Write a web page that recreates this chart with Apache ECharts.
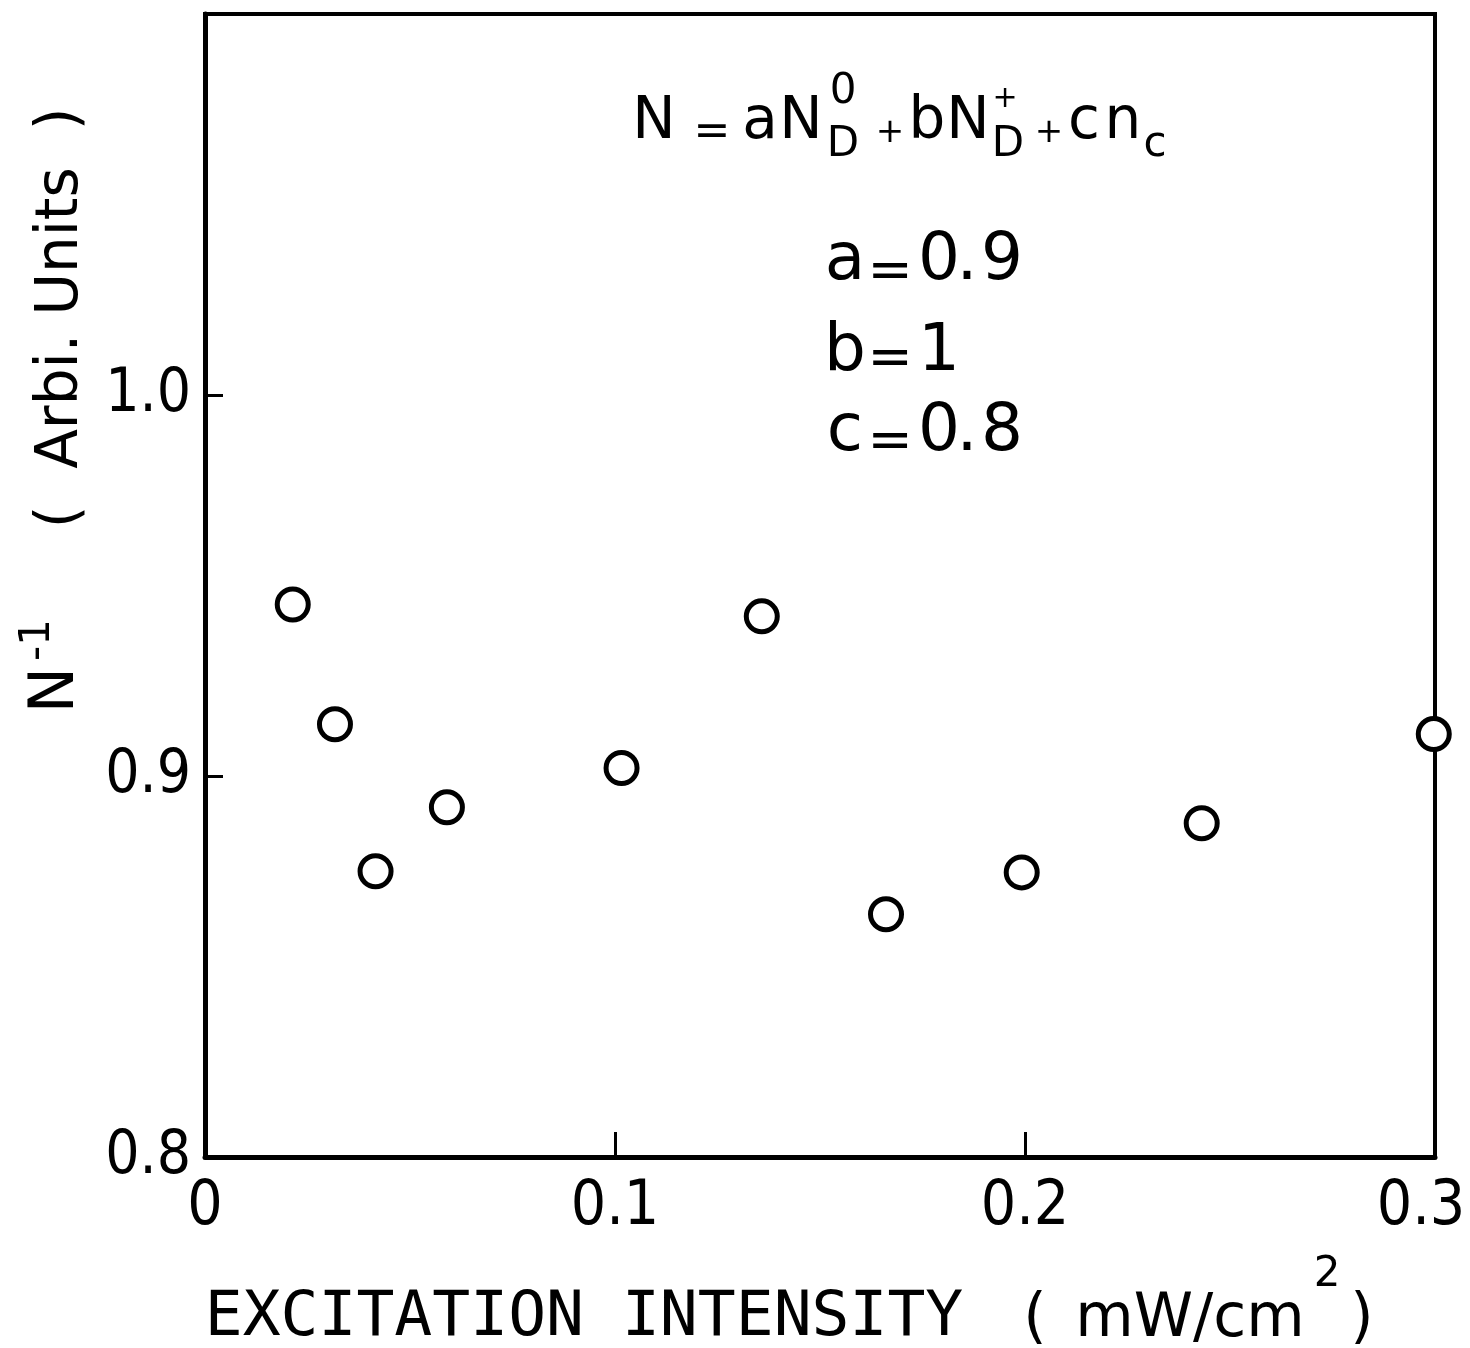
<!DOCTYPE html>
<html>
<head>
<meta charset="utf-8">
<title>N-1 vs excitation intensity</title>
<script src="https://cdn.jsdelivr.net/npm/echarts@6/dist/echarts.min.js"></script>
<style>
  html, body { margin: 0; padding: 0; background: #fff; }
  #chart { width: 1470px; height: 1348px; }
</style>
</head>
<body>
<div id="chart"></div>
<script>
// excitation intensity (mW/cm2)
var intensity = [0.0214, 0.0317, 0.0416, 0.0590, 0.1016, 0.1358, 0.1661, 0.1992, 0.2431, 0.2997]
// N^-1 (arbitrary units)
var invN = [0.945, 0.9136, 0.875, 0.8918, 0.9021, 0.9419, 0.8637, 0.8747, 0.8876, 0.911]
var xTicks = ['0', '0.1', '0.2', '0.3']
var yTicks = ['0.8', '0.9', '1.0']
var params = [['a', '0.9'], ['b', '1'], ['c', '0.8']]

var sans = 'DejaVu Sans'
var narrow = '"Liberation Sans Narrow", "DejaVu Sans Condensed", "Liberation Sans", sans-serif'

// text helper: cx = centre x, base = baseline y
function glyph (text, cx, base, size, font) {
  return {
    type: 'text',
    x: cx,
    y: base - 0.3 * size,
    style: {
      text: text,
      fill: '#000',
      font: size + 'px ' + (font || sans),
      align: 'center',
      verticalAlign: 'middle'
    }
  }
}
// centred on (cx, cy) directly
function mid (text, cx, cy, size) {
  var g = glyph(text, cx, 0, size)
  g.y = cy
  return g
}
function vglyph (text, cx, cy, size) {
  var g = mid(text, cx, cy, size)
  g.rotation = Math.PI / 2
  return g
}

var graphics = [
  // formula
  glyph('N', 654, 140, 58),
  mid('=', 712, 134, 44),
  glyph('a', 760, 140, 58),
  glyph('N', 801, 140, 58),
  glyph('0', 843, 105, 42),
  glyph('D', 843, 158, 42),
  mid('+', 890, 133, 34),
  glyph('b', 927, 140, 58),
  glyph('N', 968, 140, 58),
  mid('+', 1005, 99, 30),
  glyph('D', 1008, 158, 42),
  mid('+', 1049, 133, 34),
  glyph('c', 1084, 140, 58),
  glyph('n', 1123, 140, 58),
  glyph('c', 1155, 158, 42),
  // y axis title
  vglyph('N', 57, 690, 62),
  vglyph('-1', 38, 640, 42),
  vglyph('(  Arbi. Units  )', 62, 318, 58),
  // x axis title
  glyph('EXCITATION INTENSITY', 584, 1338, 63, 'DejaVu Sans Mono'),
  glyph('(', 1035, 1338, 60),
  glyph('mW/cm', 1190, 1338, 60),
  glyph('2', 1327, 1288, 42),
  glyph(')', 1362, 1338, 60)
]

// parameter rows a, b, c
var rowBase = [282, 373, 453]
var eqMid = [273, 360, 443]
params.forEach(function (p, i) {
  graphics.push(glyph(p[0], 845, rowBase[i], 66))
  graphics.push(mid('=', 890, eqMid[i], 54))
  var s = p[1]
  var cx = 939
  for (var k = 0; k < s.length; k++) {
    if (s[k] === '.') {
      graphics.push(glyph('.', cx - 3, rowBase[i], 66))
      cx += 32
    } else {
      graphics.push(glyph(s[k], cx, rowBase[i], 66))
      cx += 31
    }
  }
})

var chart = echarts.init(document.getElementById('chart'))
var option = {
  backgroundColor: '#fff',
  animation: false,
  grid: {
    left: 205,
    right: 35,
    top: 14,
    bottom: 191,
    containLabel: false,
    outerBoundsMode: 'none',
    show: true,
    borderColor: '#000',
    borderWidth: 4
  },
  xAxis: {
    type: 'value',
    min: 0,
    max: 0.3,
    interval: 0.1,
    splitLine: { show: false },
    axisLine: { show: true, lineStyle: { color: '#000', width: 5 } },
    axisTick: { show: true, inside: true, length: 25, lineStyle: { color: '#000', width: 3 } },
    axisLabel: {
      color: '#000',
      fontSize: 62,
      fontFamily: narrow,
      margin: 20,
      formatter: function (v) {
        var i = Math.round(v * 10)
        // last label pulled in a little so it stays on the page
        return i === 3 ? '{last|' + xTicks[i] + '}' : xTicks[i]
      },
      rich: {
        last: {
          fontSize: 62,
          fontFamily: narrow,
          color: '#000',
          padding: [0, 28, 0, 0]
        }
      }
    }
  },
  yAxis: {
    type: 'value',
    min: 0.8,
    max: 1.1,
    interval: 0.1,
    splitLine: { show: false },
    axisLine: { show: true, lineStyle: { color: '#000', width: 5 } },
    axisTick: { show: true, inside: true, length: 18, lineStyle: { color: '#000', width: 3 } },
    axisLabel: {
      color: '#000',
      fontSize: 60,
      fontFamily: narrow,
      margin: 14,
      formatter: function (v) {
        var i = Math.round((v - 0.8) * 10)
        return yTicks[i] || ''
      }
    }
  },
  series: [
    {
      type: 'scatter',
      symbol: 'circle',
      symbolSize: 31,
      itemStyle: {
        color: '#fff',
        borderColor: '#000',
        borderWidth: 5,
        opacity: 1
      },
      data: intensity.map(function (x, i) { return [x, invN[i]] })
    }
  ],
  graphic: graphics
}
chart.setOption(option)
</script>
</body>
</html>
